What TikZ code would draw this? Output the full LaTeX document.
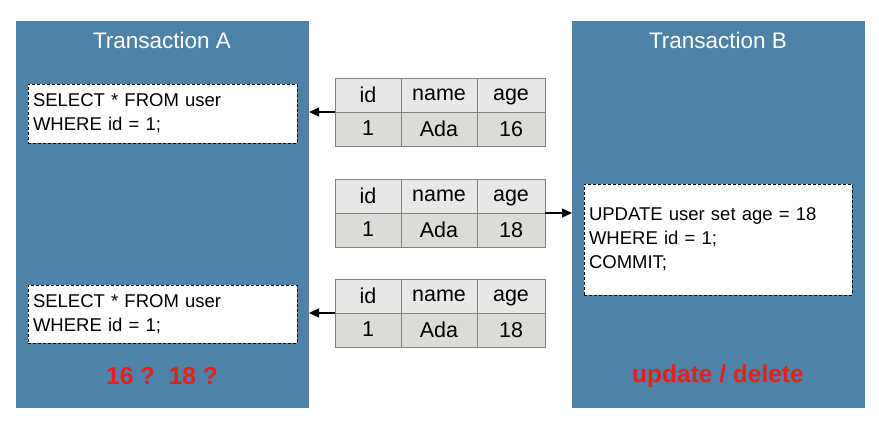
\documentclass[tikz,border=0pt]{standalone}
\usepackage{fontspec}
\setmainfont{Liberation Sans}
\usetikzlibrary{arrows.meta}
\definecolor{panelblue}{RGB}{78,130,166}
\definecolor{hdrgray}{RGB}{232,232,232}
\definecolor{rowgray}{RGB}{220,220,214}
\definecolor{cellline}{RGB}{130,130,130}
\definecolor{alertred}{RGB}{232,32,28}
\newcommand{\dbtable}[3]{%
  \node[hcell, minimum width=66pt, anchor=north west] (#1a) at (335,#2) {id};
  \node[hcell, minimum width=76pt, anchor=north west] (#1b) at (#1a.north east) {name};
  \node[hcell, minimum width=68pt, anchor=north west] (#1c) at (#1b.north east) {age};
  \node[dcell, minimum width=66pt, anchor=north west] (#1d) at (#1a.south west) {1};
  \node[dcell, minimum width=76pt, anchor=north west] (#1e) at (#1b.south west) {Ada};
  \node[dcell, minimum width=68pt, anchor=north west] (#1f) at (#1c.south west) {#3};
}
\begin{document}
\begin{tikzpicture}[x=1pt,y=-1pt,
  panel/.style={fill=panelblue, draw=none, inner sep=0pt, outer sep=0pt, anchor=north west},
  title/.style={text=white, font=\fontsize{22.5}{26}\selectfont},
  sqlbox/.style={fill=white, draw=black, dash pattern=on 3pt off 2pt, line width=0.7pt,
    inner xsep=5pt, inner ysep=0pt, outer sep=0pt, anchor=north west, align=left,
    font=\fontsize{18.5}{24}\selectfont},
  cellbase/.style={draw=cellline, line width=0.8pt, minimum height=34pt, inner sep=0pt,
    outer sep=0pt, text depth=1pt, font=\fontsize{21.5}{24}\selectfont},
  hcell/.style={cellbase, fill=hdrgray},
  dcell/.style={cellbase, fill=rowgray},
  arr/.style={line width=1.2pt, black, arrows={-Stealth[length=10pt,width=9pt,inset=0pt]}},
  alert/.style={text=alertred, font=\bfseries\fontsize{24.5}{28}\selectfont}]
\useasboundingbox (0,0) rectangle (879,424);
\fill[white] (0,0) rectangle (879,424);
% panels
\node[panel, minimum width=293pt, minimum height=387pt] (pA) at (16,21) {};
\node[panel, minimum width=293pt, minimum height=387pt] (pB) at (572,21) {};
\node[title] (tA) at (162,40) {Transaction A};
\node[title] (tB) at (718,40) {Transaction B};
% sql boxes
\node[sqlbox, minimum height=59pt, text width=259pt] (qA1) at (28,84) {SELECT * FROM user\\WHERE id = 1;};
\node[sqlbox, minimum height=58pt, text width=259pt] (qA2) at (28,285) {SELECT * FROM user\\WHERE id = 1;};
\node[sqlbox, minimum height=111pt, text width=258pt] (qB) at (584,184) {UPDATE user set age = 18\\WHERE id = 1;\\COMMIT;};
% tables
\dbtable{s}{78}{16}
\dbtable{m}{179}{18}
\dbtable{t}{279}{18}
% arrows
\draw[arr] (sa.south west) -- (pA.east |- sa.south west);
\draw[arr] (mc.south east) -- (pB.west |- mc.south east);
\draw[arr] (ta.south west) -- (pA.east |- ta.south west);
% red notes
\node[alert] (nA) at (162,376) {16 ?\ \ 18 ?};
\node[alert] (nB) at (718,376) {update / delete};
\end{tikzpicture}
\end{document}
